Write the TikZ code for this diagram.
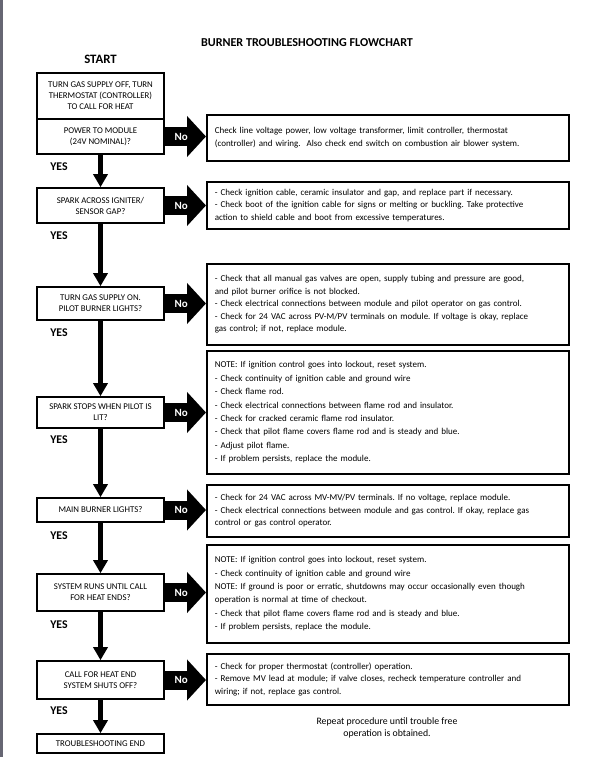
\documentclass[tikz,border=0pt]{standalone}
\usepackage{fontspec}
\setmainfont{Carlito}
\usetikzlibrary{arrows.meta}
\frenchspacing

\tikzset{
  askbox/.style={draw, line width=1.6pt, minimum width=127pt, inner sep=1pt, align=center, font=\fontsize{8.8}{11}\selectfont},
  remedy/.style={draw, line width=1.6pt, anchor=north west, text width=346pt, inner xsep=8pt, inner ysep=2pt, align=left, font=\fontsize{9}{12.6}\selectfont},
  yesarrow/.style={line width=5pt, -{Triangle[width=14pt,length=13pt]}},
  noarrow/.style={line width=19pt, -{Triangle[width=40pt,length=19pt]}},
  nolabel/.style={text=white, font=\bfseries\fontsize{11}{11}\selectfont},
  yeslabel/.style={font=\bfseries\fontsize{11.8}{11.8}\selectfont},
}

\begin{document}
\begin{tikzpicture}[x=1pt,y=-1pt]
\useasboundingbox (0,0) rectangle (611,757);
\fill[black!75!blue!20!gray] (0,0) rectangle (3,757);

\node (title) at (307,43) {\bfseries\fontsize{12.1}{12.1}\selectfont BURNER TROUBLESHOOTING FLOWCHART};
\node (start) at (100.5,59) {\bfseries\fontsize{12.8}{12.8}\selectfont START};

\node[askbox, minimum height=46pt] (q0) at (100.5,96) {TURN GAS SUPPLY OFF, TURN\\ THERMOSTAT (CONTROLLER)\\ TO CALL FOR HEAT};
\node[askbox, minimum height=35pt] (q1) at (100.5,136.5) {POWER TO MODULE\\ (24V NOMINAL)?};
\node[askbox, minimum height=35pt] (q2) at (100.5,205.5) {SPARK ACROSS IGNITER/\\ SENSOR GAP?};
\node[askbox, minimum height=33pt] (q3) at (100.5,303.5) {TURN GAS SUPPLY ON.\\ PILOT BURNER LIGHTS?};
\node[askbox, minimum height=31pt] (q4) at (100.5,412.5) {SPARK STOPS WHEN PILOT IS\\ LIT?};
\node[askbox, minimum height=24pt] (q5) at (100.5,510) {MAIN BURNER LIGHTS?};
\node[askbox, minimum height=37pt] (q6) at (100.5,592.5) {SYSTEM RUNS UNTIL CALL\\ FOR HEAT ENDS?};
\node[askbox, minimum height=38pt] (q7) at (100.5,680) {CALL FOR HEAT END\\ SYSTEM SHUTS OFF?};
\node[askbox, minimum height=19pt] (q8) at (100.5,743.5) {TROUBLESHOOTING END};

\node[remedy, minimum height=46pt] (r1) at (206,114) {Check line voltage power, low voltage transformer, limit controller, thermostat\\ (controller) and wiring.\ \ Also check end switch on combustion air blower system.};
\node[remedy, minimum height=47pt] (r2) at (206,181) {- Check ignition cable, ceramic insulator and gap, and replace part if necessary.\\ - Check boot of the ignition cable for signs or melting or buckling. Take protective\\ action to shield cable and boot from excessive temperatures.};
\node[remedy, minimum height=81pt] (r3) at (206,263) {- Check that all manual gas valves are open, supply tubing and pressure are good,\\ and pilot burner orifice is not blocked.\\ - Check electrical connections between module and pilot operator on gas control.\\ - Check for 24 VAC across PV-M/PV terminals on module. If voltage is okay, replace\\ gas control; if not, replace module.};
\node[remedy, minimum height=123pt, font=\fontsize{9}{13.4}\selectfont] (r4) at (206,350) {NOTE: If ignition control goes into lockout, reset system.\\ - Check continuity of ignition cable and ground wire\\ - Check flame rod.\\ - Check electrical connections between flame rod and insulator.\\ - Check for cracked ceramic flame rod insulator.\\ - Check that pilot flame covers flame rod and is steady and blue.\\ - Adjust pilot flame.\\ - If problem persists, replace the module.};
\node[remedy, minimum height=52pt] (r5) at (206,484) {- Check for 24 VAC across MV-MV/PV terminals. If no voltage, replace module.\\ - Check electrical connections between module and gas control. If okay, replace gas\\ control or gas control operator.};
\node[remedy, minimum height=98pt, font=\fontsize{9}{13.4}\selectfont] (r6) at (206,544) {NOTE: If ignition control goes into lockout, reset system.\\ - Check continuity of ignition cable and ground wire\\ NOTE: If ground is poor or erratic, shutdowns may occur occasionally even though\\ operation is normal at time of checkout.\\ - Check that pilot flame covers flame rod and is steady and blue.\\ - If problem persists, replace the module.};
\node[remedy, minimum height=51pt] (r7) at (206,653) {- Check for proper thermostat (controller) operation.\\ - Remove MV lead at module; if valve closes, recheck temperature controller and\\ wiring; if not, replace gas control.};

\node[align=center, font=\fontsize{9.8}{12.4}\selectfont] (repeat) at (387,728) {Repeat procedure until trouble free\\ operation is obtained.};

\draw[noarrow] (q1.east) -- (q1.east -| r1.west) node[pos=0.4, nolabel] {No};
\draw[noarrow] (q2.east) -- (q2.east -| r2.west) node[pos=0.4, nolabel] {No};
\draw[noarrow] (q3.east) -- (q3.east -| r3.west) node[pos=0.4, nolabel] {No};
\draw[noarrow] (q4.east) -- (q4.east -| r4.west) node[pos=0.4, nolabel] {No};
\draw[noarrow] (q5.east) -- (q5.east -| r5.west) node[pos=0.4, nolabel] {No};
\draw[noarrow] (q6.east) -- (q6.east -| r6.west) node[pos=0.4, nolabel] {No};
\draw[noarrow] (q7.east) -- (q7.east -| r7.west) node[pos=0.4, nolabel] {No};

\draw[yesarrow] (q1) -- (q2);
\draw[yesarrow] (q2) -- (q3);
\draw[yesarrow] (q3) -- (q4);
\draw[yesarrow] (q4) -- (q5);
\draw[yesarrow] (q5) -- (q6);
\draw[yesarrow] (q6) -- (q7);
\draw[yesarrow] (q7) -- (q8);

\node[yeslabel] (y1) at (59,167) {YES};
\node[yeslabel] (y2) at (59,236) {YES};
\node[yeslabel] (y3) at (59,333) {YES};
\node[yeslabel] (y4) at (59,440) {YES};
\node[yeslabel] (y5) at (59,536) {YES};
\node[yeslabel] (y6) at (59,625) {YES};
\node[yeslabel] (y7) at (59,711) {YES};
\end{tikzpicture}
\end{document}
